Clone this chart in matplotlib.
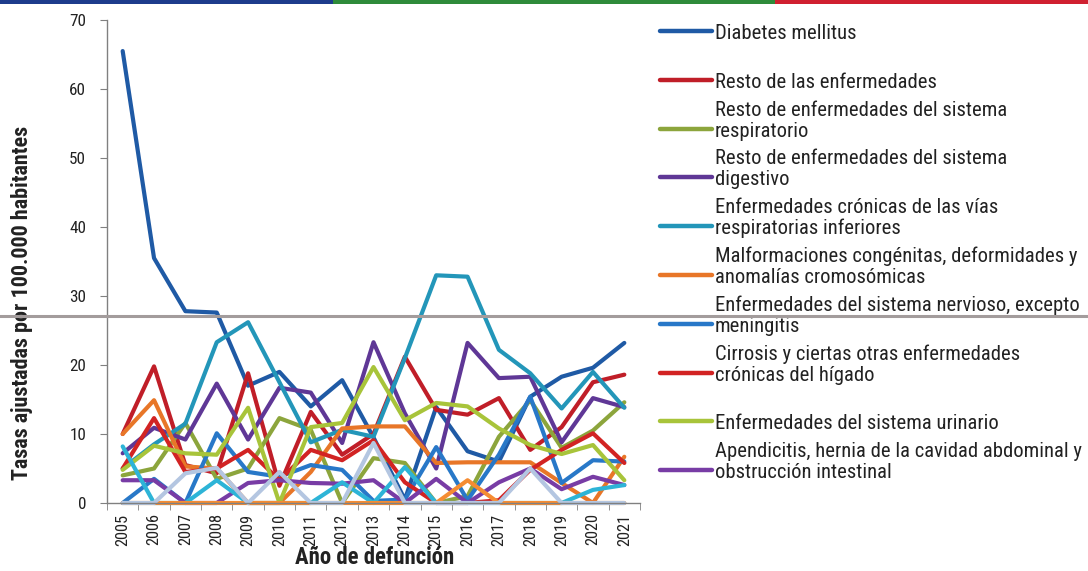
import matplotlib
matplotlib.use("Agg")
import matplotlib.pyplot as plt
from matplotlib import font_manager
from matplotlib.lines import Line2D
from matplotlib.patches import Rectangle
from matplotlib.ticker import MultipleLocator

# ---- data -------------------------------------------------------------
years = list(range(2005, 2022))

diabetes = [65.5, 35.5, 27.8, 27.6, 17.0, 19.0, 14.0, 17.8, 9.5, 0.5, 13.9, 7.5, 6.0, 15.4, 18.3, 19.6, 23.2]
resto_enf = [10.0, 19.8, 5.5, 4.3, 18.8, 2.5, 13.2, 7.0, 10.0, 21.2, 13.5, 12.8, 15.2, 7.7, 11.0, 17.5, 18.6]
resto_resp = [4.0, 5.0, 11.6, 3.5, 5.0, 12.3, 10.6, 0.0, 6.5, 5.8, 0.0, 1.0, 9.6, 14.9, 8.0, 10.5, 14.6]
resto_dig = [7.2, 10.9, 9.2, 17.3, 9.2, 16.7, 16.0, 8.7, 23.3, 13.0, 5.0, 23.2, 18.1, 18.3, 8.8, 15.2, 13.9]
cronicas_resp = [5.0, 8.5, 11.5, 23.3, 26.2, 17.5, 8.8, 10.6, 9.6, 21.0, 33.0, 32.8, 22.2, 18.8, 13.7, 19.0, 13.8]
malformaciones = [10.0, 14.9, 5.3, 5.0, 0.0, 0.0, 4.5, 10.8, 11.1, 11.1, 5.8, 5.9, 5.9, 5.9, 2.9, 0.0, 6.7]
nervioso = [0.0, 3.5, 0.0, 10.1, 4.5, 3.8, 5.5, 4.8, 0.3, 0.5, 8.1, 0.4, 7.0, 15.4, 2.9, 6.2, 6.0]
cirrosis = [5.0, 12.3, 4.5, 5.0, 7.7, 3.3, 7.7, 6.2, 9.1, 3.0, 0.0, 0.0, 0.4, 4.8, 7.7, 10.1, 5.8]
urinario = [4.8, 8.3, 7.2, 7.0, 13.8, 0.0, 11.0, 11.6, 19.7, 12.0, 14.5, 14.0, 10.8, 8.4, 7.1, 8.4, 3.3]
apendicitis = [3.3, 3.3, 0.0, 0.0, 2.9, 3.3, 2.9, 2.8, 3.3, 0.0, 3.5, 0.0, 3.0, 5.0, 2.0, 3.8, 2.6]
otras_a = [8.2, 0.0, 0.0, 3.3, 0.0, 0.0, 0.0, 3.0, 0.0, 5.2, 0.0, 0.0, 0.0, 0.0, 0.0, 1.9, 2.6]
otras_b = [0.0, 0.0, 0.0, 0.0, 0.0, 0.0, 0.0, 0.0, 0.0, 0.0, 0.0, 3.3, 0.0, 0.0, 0.0, 0.0, 0.0]
otras_c = [0.0, 0.0, 4.3, 5.1, 0.0, 4.5, 0.0, 0.0, 8.7, 0.0, 0.0, 0.0, 0.0, 5.0, 0.0, 0.0, 0.0]

labels = [
    "Diabetes mellitus",
    "Resto de las enfermedades",
    "Resto de enfermedades del sistema\nrespiratorio",
    "Resto de enfermedades del sistema\ndigestivo",
    "Enfermedades crónicas de las vías\nrespiratorias inferiores",
    "Malformaciones congénitas, deformidades y\nanomalías cromosómicas",
    "Enfermedades del sistema nervioso, excepto\nmeningitis",
    "Cirrosis y ciertas otras enfermedades\ncrónicas del hígado",
    "Enfermedades del sistema urinario",
    "Apendicitis, hernia de la cavidad abdominal y\nobstrucción intestinal",
]

series = [diabetes, resto_enf, resto_resp, resto_dig, cronicas_resp, malformaciones,
          nervioso, cirrosis, urinario, apendicitis, otras_a, otras_b, otras_c]
colors = ["#1f5aa5", "#c01e28", "#8ca53c", "#5f3796", "#2396b9", "#e87628",
          "#2878c8", "#d22323", "#a8c43a", "#783ca5", "#2db4d7", "#f58c32", "#b4c6e1"]


# ---- fonts: prefer a narrow sans face ------------------------------------
def pick_font():
    entries = font_manager.fontManager.ttflist
    names = {f.name for f in entries}
    for fam in ["Liberation Sans Narrow", "Arial Narrow", "Roboto Condensed",
                "Open Sans Condensed", "Noto Sans Condensed", "DejaVu Sans Condensed"]:
        if fam in names:
            return fam, "normal"
    narrow = ("condensed", "semi-condensed", "extra-condensed", "ultra-condensed")
    for fam in ["Noto Sans", "Open Sans", "Roboto", "DejaVu Sans", "Liberation Sans"]:
        for f in entries:
            if f.name == fam and str(f.stretch) in narrow:
                return fam, "condensed"
    return "Liberation Sans", "normal"


FAM, STRETCH = pick_font()
plt.rcParams["font.family"] = [FAM, "DejaVu Sans"]
plt.rcParams["font.stretch"] = STRETCH
TXT = "#222222"

W, H = 1088, 571
fig = plt.figure(figsize=(W / 100, H / 100), dpi=100)
fig.patch.set_facecolor("white")

# plot area in pixel terms
left, right, top, bottom = 107, 640, 20, 503
ax = fig.add_axes([left / W, 1 - bottom / H, (right - left) / W, (bottom - top) / H])

for vals, col in zip(series, colors):
    ax.plot(years, vals, color=col, lw=3.0, solid_joinstyle="round",
            solid_capstyle="round", clip_on=False)

ax.set_xlim(2004.5, 2021.5)
ax.set_ylim(0, 70)
ax.yaxis.set_major_locator(MultipleLocator(10))
ax.set_xticks(years)
ax.set_xticklabels([str(y) for y in years], rotation=90, color=TXT)
ax.set_xticks([y - 0.5 for y in years] + [2021.5], minor=True)
ax.tick_params(axis="x", which="major", length=0, pad=7.5, labelsize=12)
ax.tick_params(axis="x", which="minor", length=5, color="#808080", direction="out")
ax.tick_params(axis="y", length=5, color="#808080", direction="out", pad=10,
               labelsize=15, labelcolor=TXT)
for s in ("top", "right"):
    ax.spines[s].set_visible(False)
for s in ("left", "bottom"):
    ax.spines[s].set_color("#808080")
    ax.spines[s].set_linewidth(1.0)

ylab = fig.text(22 / W, 1 - 303 / H, "Tasas ajustadas por 100.000 habitantes", rotation=90,
                ha="center", va="center", fontsize=15, fontweight="bold", color=TXT)
xlab = fig.text(375 / W, 1 - 558 / H, "Año de defunción", ha="center", va="center",
                fontsize=15.5, fontweight="bold", color=TXT)

# ---- legend (right side) ---------------------------------------------
y0, step = 31, 48.8
leg_texts = []
for i, (lab, col) in enumerate(zip(labels, colors[:len(labels)])):
    yh = y0 + i * step
    fig.add_artist(Line2D([660 / W, 712 / W], [1 - yh / H, 1 - yh / H],
                          transform=fig.transFigure, color=col, lw=3.2,
                          solid_capstyle="round"))
    t = fig.text(715 / W, 1 - (yh + 8) / H, lab, ha="left", va="baseline",
                 fontsize=14.8, color=TXT, linespacing=1.13)
    leg_texts.append(t)

# ---- size text so its length fits the available room ---------------------
renderer = fig.canvas.get_renderer()


def length_px(artist):
    bb = artist.get_window_extent(renderer)
    return max(bb.width, bb.height)


probe = fig.text(0, 0, "Malformaciones congénitas, deformidades y", fontsize=14.8)
leg_size = 14.8 * 362 / length_px(probe)
probe.remove()
for t in leg_texts:
    t.set_fontsize(leg_size)

ylab.set_fontsize(15 * 355 / length_px(ylab))
xlab.set_fontsize(15.5 * 160 / length_px(xlab))

fig.canvas.draw()
xt = ax.get_xticklabels()[0]
ax.tick_params(axis="x", which="major", labelsize=12 * 32 / length_px(xt))
yt = ax.get_yticklabels()[-1]
ax.tick_params(axis="y", labelsize=15 * 17 / length_px(yt))

# ---- page decorations -------------------------------------------------
band_h = 4 / H
for x0, x1, c in [(0, 333, "#1d3c8c"), (333, 775, "#2e8b3a"), (775, 1088, "#d02030")]:
    fig.add_artist(Rectangle((x0 / W, 1 - band_h), (x1 - x0) / W, band_h,
                             transform=fig.transFigure, color=c, lw=0))
fig.add_artist(Line2D([0, 1], [1 - 316 / H, 1 - 316 / H], transform=fig.transFigure,
                      color="#a39c9c", lw=2.2, zorder=5))

fig.savefig("out.png", dpi=100)
